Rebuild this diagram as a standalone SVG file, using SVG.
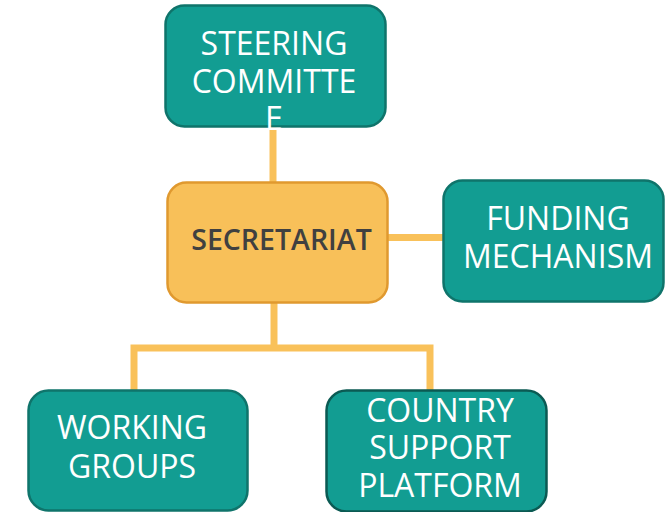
<svg xmlns="http://www.w3.org/2000/svg" width="672" height="512" viewBox="0 0 672 512">
<style>
.teal{fill:#129d92;stroke:#0f746b;stroke-width:2.5}
.dark{stroke:#0b5a53}
.sec{fill:#f8c059;stroke:#e0992f;stroke-width:2.5}
.t{font-family:"Open Sans","Noto Sans",sans-serif;font-size:32px;fill:#ffffff;text-anchor:middle}
.st{font-family:"Open Sans","Noto Sans",sans-serif;font-size:28.5px;font-weight:600;fill:#404040;text-anchor:middle}
.c{fill:none;stroke:#f9c15a;stroke-width:7}
</style>
<rect width="672" height="512" fill="#ffffff"/>
<g id="connectors">
<line class="c" x1="273" y1="127" x2="273" y2="183"/>
<line class="c" x1="387" y1="237.5" x2="444" y2="237.5"/>
<line class="c" x1="274" y1="302" x2="274" y2="348"/>
<polyline class="c" points="134,390 134,348 430,348 430,390"/>
</g>
<g id="steering">
<rect class="teal" x="165.5" y="5.5" width="220" height="121" rx="19"/>
</g>
<g id="secretariat">
<rect class="sec" x="167.5" y="182.5" width="220" height="120" rx="19"/>
<text class="st" x="281.5" y="250">SECRETARIAT</text>
</g>
<g id="funding">
<rect class="teal" x="443.5" y="180.5" width="220" height="121" rx="19"/>
<text class="t" x="558" y="230">FUNDING</text>
<text class="t" x="558" y="268">MECHANISM</text>
</g>
<g id="working">
<rect class="teal" x="28.5" y="390.5" width="219" height="120" rx="20"/>
<text class="t" x="132" y="439">WORKING</text>
<text class="t" x="132" y="478">GROUPS</text>
</g>
<g id="country">
<rect class="teal dark" x="326.5" y="390.5" width="220" height="121" rx="20"/>
<text class="t" x="440" y="422">COUNTRY</text>
<text class="t" x="440" y="459">SUPPORT</text>
<text class="t" x="440" y="497">PLATFORM</text>
</g>
<g id="steering-label">
<text class="t" x="274" y="55">STEERING</text>
<text class="t" x="274" y="93">COMMITTE</text>
<text class="t" x="274" y="130">E</text>
</g>
</svg>
